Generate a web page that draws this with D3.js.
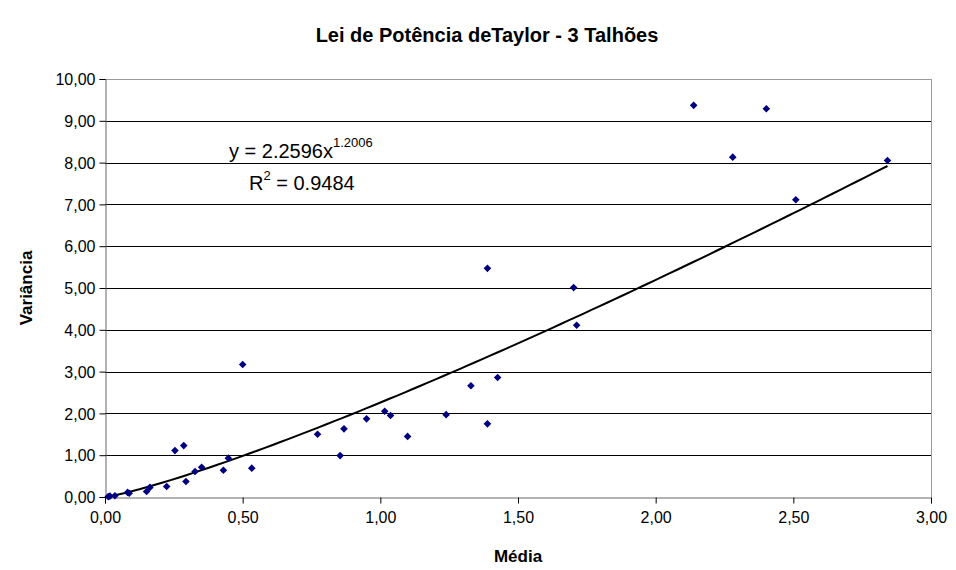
<!DOCTYPE html>
<html>
<head>
<meta charset="utf-8">
<script src="https://cdn.jsdelivr.net/npm/d3@7"></script>
<style>
  body { margin: 0; background: #fff; }
  svg { font-family: "Liberation Sans", Arial, sans-serif; }
</style>
</head>
<body>
<div id="chart"></div>
<script>
// media (x) and variancia (y) for each sample
const media = [
  2.138, 2.402, 2.280, 2.842, 2.509, 1.389, 1.702, 1.713, 0.500, 1.426,
  1.329, 1.239, 1.389, 1.016, 1.037, 0.950, 1.099, 0.772, 0.868, 0.854,
  0.286, 0.254, 0.448, 0.533, 0.430, 0.351, 0.327, 0.294, 0.224, 0.163,
  0.151, 0.088, 0.082, 0.036, 0.018, 0.012
];
const variancia = [
  9.37, 9.29, 8.13, 8.05, 7.11, 5.47, 5.01, 4.11, 3.17, 2.86,
  2.66, 1.97, 1.75, 2.05, 1.95, 1.87, 1.45, 1.50, 1.63, 0.99,
  1.23, 1.11, 0.93, 0.69, 0.64, 0.71, 0.61, 0.37, 0.25, 0.23,
  0.13, 0.09, 0.11, 0.03, 0.02, 0.01
];
const xTicks = [0, 0.5, 1, 1.5, 2, 2.5, 3];
const yTicks = [0, 1, 2, 3, 4, 5, 6, 7, 8, 9, 10];

// power trendline y = a * x^b
const coefA = 2.2596;
const coefB = 1.2006;
const rSquared = 0.9484;

const width = 956, height = 570;
const margin = { left: 105, right: 25, top: 79, bottom: 73 };

const fmt = (v) => v.toFixed(2).replace(".", ",");

const svg = d3.select("#chart")
  .append("svg")
  .attr("width", width)
  .attr("height", height)
  .attr("viewBox", `0 0 ${width} ${height}`);

const x = d3.scaleLinear().domain([0, 3]).range([margin.left, width - margin.right]);
const y = d3.scaleLinear().domain([0, 10]).range([height - margin.bottom, margin.top]);

// gridlines
svg.append("g")
  .attr("class", "grid")
  .selectAll("line")
  .data(yTicks.filter((t) => t > 0))
  .join("line")
  .attr("x1", x(0))
  .attr("x2", x(3))
  .attr("y1", (d) => Math.round(y(d)) + 0.5)
  .attr("y2", (d) => Math.round(y(d)) + 0.5)
  .attr("stroke", (d) => (d === 10 ? "#999" : "#000"))
  .attr("stroke-width", 1);

// plot border on the right
svg.append("line")
  .attr("x1", Math.round(x(3)) + 0.5)
  .attr("x2", Math.round(x(3)) + 0.5)
  .attr("y1", y(10))
  .attr("y2", y(0))
  .attr("stroke", "#999");

// Y axis
const yAxis = svg.append("g")
  .attr("transform", `translate(${Math.round(x(0)) + 0.5}, 0)`)
  .call(d3.axisLeft(y).tickValues(yTicks).tickFormat(fmt).tickSize(6).tickPadding(4));

// X axis
const xAxis = svg.append("g")
  .attr("transform", `translate(0, ${Math.round(y(0)) + 0.5})`)
  .call(d3.axisBottom(x).tickValues(xTicks).tickFormat(fmt).tickSize(6).tickPadding(8));

[xAxis, yAxis].forEach((ax) => {
  ax.select(".domain").attr("stroke", "#666");
  ax.selectAll(".tick line").attr("stroke", "#000");
  ax.selectAll(".tick text")
    .attr("fill", "#000")
    .style("font-size", "16px")
    .style("font-family", "'Liberation Sans', Arial, sans-serif");
});
yAxis.selectAll(".tick text").attr("dy", "0.35em");

// trendline
const xMin = d3.min(media), xMax = d3.max(media);
const curve = d3.range(0, 101).map((i) => {
  const xv = xMin + (xMax - xMin) * i / 100;
  return [xv, coefA * Math.pow(xv, coefB)];
});
svg.append("path")
  .datum(curve)
  .attr("fill", "none")
  .attr("stroke", "#000")
  .attr("stroke-width", 2)
  .attr("d", d3.line().x((d) => x(d[0])).y((d) => y(d[1])));

// points
const pts = media.map((m, i) => ({ m, v: variancia[i] }));
svg.append("g")
  .selectAll("path")
  .data(pts)
  .join("path")
  .attr("transform", (d) => `translate(${x(d.m)}, ${y(d.v)})`)
  .attr("d", "M0,-3.8L3.8,0L0,3.8L-3.8,0Z")
  .attr("fill", "#000080");

// equation label
const eq = svg.append("text")
  .attr("x", 229)
  .attr("y", 158)
  .style("font-size", "20px")
  .attr("fill", "#000");
eq.append("tspan").text(`y = ${coefA}x`);
eq.append("tspan").attr("dy", -11).style("font-size", "13px").text(coefB);

const r2 = svg.append("text")
  .attr("x", 249)
  .attr("y", 190)
  .style("font-size", "20px")
  .attr("fill", "#000");
r2.append("tspan").text("R");
r2.append("tspan").attr("dy", -10).style("font-size", "13px").text("2");
r2.append("tspan").attr("dy", 10).text(` = ${rSquared}`);

// titles
svg.append("text")
  .attr("x", 487)
  .attr("y", 42)
  .attr("text-anchor", "middle")
  .style("font-size", "20px")
  .style("font-weight", "bold")
  .text("Lei de Potência deTaylor - 3 Talhões");

svg.append("text")
  .attr("x", x(1.5))
  .attr("y", 562)
  .attr("text-anchor", "middle")
  .style("font-size", "17px")
  .style("font-weight", "bold")
  .text("Média");

svg.append("text")
  .attr("transform", `translate(32, ${y(5)}) rotate(-90)`)
  .attr("text-anchor", "middle")
  .style("font-size", "17px")
  .style("font-weight", "bold")
  .text("Variância");
</script>
</body>
</html>
